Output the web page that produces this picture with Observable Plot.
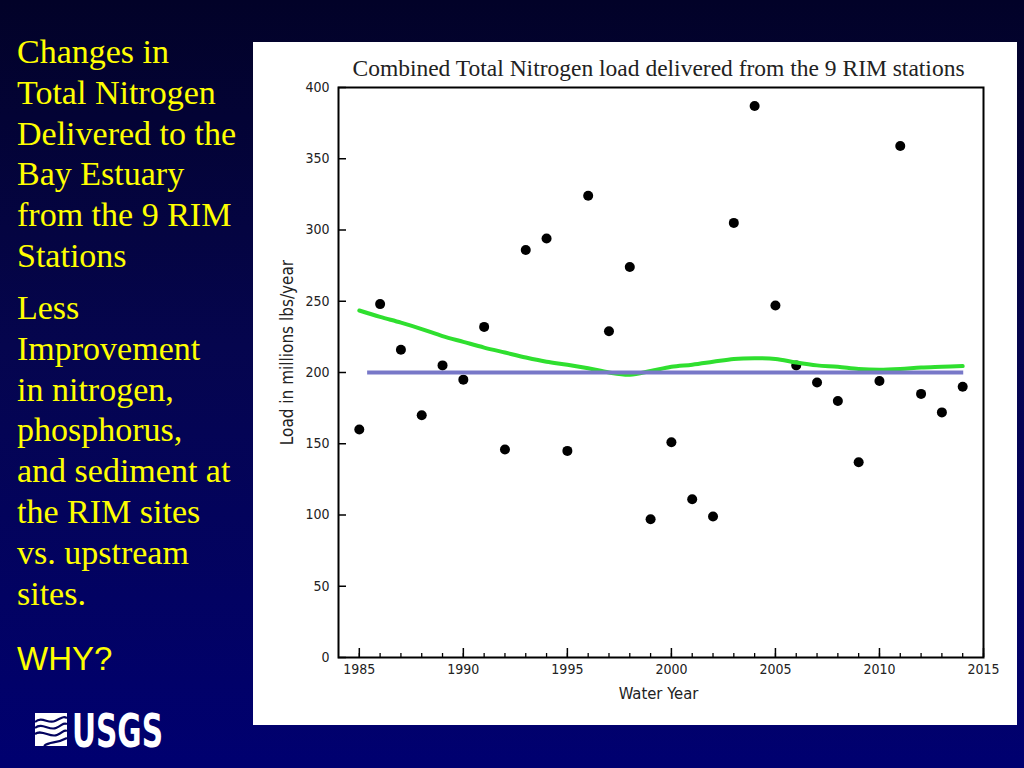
<!DOCTYPE html>
<html>
<head>
<meta charset="utf-8">
<script src="https://cdn.jsdelivr.net/npm/d3@7"></script>
<script src="https://cdn.jsdelivr.net/npm/@observablehq/plot@0.6"></script>
<style>
  html, body { margin: 0; padding: 0; }
  body {
    width: 1024px; height: 768px; overflow: hidden; position: relative;
    background: linear-gradient(to bottom, #020228 0%, #05054e 45%, #000070 100%);
  }
  #slide { position: absolute; left: 0; top: 0; }
  #chart { position: absolute; left: 253px; top: 42px; width: 764px; height: 683px; }
  #chart svg { display: block; }
</style>
</head>
<body>
<svg id="slide" width="1024" height="768"></svg>
<div id="chart"></div>
<script>
// ---------- data ----------
const years = [1985,1986,1987,1988,1989,1990,1991,1992,1993,1994,1995,1996,1997,1998,1999,
               2000,2001,2002,2003,2004,2005,2006,2007,2008,2009,2010,2011,2012,2013,2014];
const loads = [160,248,216,170,205,195,232,146,286,294,145,324,229,274,97,
               151,111,99,305,387,247,205,193,180,137,194,359,185,172,190];
const trendValues = [243.5,239,235,230.5,225.5,221.5,217.5,214,210.5,207.5,205.5,203,200,198.5,201,
                     204,205.5,207.5,209.5,210,209.5,207,205,204,202.5,202,202.5,203.5,204,204.5];
const meanLoad = 200;
const meanStart = 1985.4;
const meanEnd = 2014.05;
const yTicks = [0,50,100,150,200,250,300,350,400];
const majorYears = [1985,1990,1995,2000,2005,2010,2015];
const minorYears = d3.range(1985, 2016);
const chartTitle = "Combined Total Nitrogen load delivered from the 9 RIM stations";
const yLabel = "Load in millions lbs/year";
const xLabel = "Water Year";
const headingLines = ["Changes in","Total Nitrogen","Delivered to the","Bay Estuary","from the 9 RIM","Stations"];
const bodyLines = ["Less","Improvement","in nitrogen,","phosphorus,","and sediment at","the RIM sites","vs. upstream","sites."];
const question = "WHY?";
const logoText = "USGS";

const points = years.map((year, i) => ({year, load: loads[i]}));
const trend = years.map((year, i) => ({year, load: trendValues[i]}));

// ---------- slide decoration ----------
const slide = d3.select("#slide");
const yellow = "#ffff00";
headingLines.forEach((t, i) => {
  slide.append("text").attr("x", 17).attr("y", 63 + i * 40.8)
    .attr("fill", yellow).attr("font-family", "'Liberation Serif','Times New Roman',serif")
    .attr("font-size", 34).text(t);
});
bodyLines.forEach((t, i) => {
  slide.append("text").attr("x", 17).attr("y", 319 + i * 40.8)
    .attr("fill", yellow).attr("font-family", "'Liberation Serif','Times New Roman',serif")
    .attr("font-size", 34).text(t);
});
slide.append("text").attr("x", 17).attr("y", 670)
  .attr("fill", yellow).attr("font-family", "'Liberation Sans',Arial,sans-serif")
  .attr("font-size", 33).text(question);

// USGS logo
const logo = slide.append("g");
logo.append("rect").attr("x", 35).attr("y", 713).attr("width", 32).attr("height", 33).attr("fill", "white");
["M35,722 C42,716 48,724 55,721 S63,716 67,718",
 "M35,728 C42,722 49,731 56,728 S63,722 67,724",
 "M35,734 C42,729 50,738 57,735 S64,729 67,731",
 "M44,746 C50,741 56,744 67,738"].forEach(d => {
  logo.append("path").attr("d", d).attr("fill", "none").attr("stroke", "#03035e").attr("stroke-width", 2.2);
});
logo.append("text").attr("x", 72).attr("y", 747)
  .attr("fill", "white").attr("font-family", "'Liberation Sans Narrow','DejaVu Sans Condensed','Liberation Sans',Arial,sans-serif")
  .attr("font-weight", "bold").attr("font-size", 46)
  .attr("textLength", 91).attr("lengthAdjust", "spacingAndGlyphs").text(logoText);

// ---------- chart ----------
const sansNarrow = "'Liberation Sans Narrow','DejaVu Sans Condensed','Arial Narrow',sans-serif";
const frameW = 764 - 85 - 34;
const frameH = 683 - 45 - 68;

const chart = Plot.plot({
  width: 764,
  height: 683,
  marginLeft: 85,
  marginRight: 34,
  marginTop: 45,
  marginBottom: 68,
  x: {domain: [1984, 2015], axis: null, label: null},
  y: {domain: [0, 400], axis: null, label: null},
  style: {background: "white", fontFamily: sansNarrow, fontSize: "14px", color: "#222", overflow: "visible"},
  marks: [
    Plot.dot(points, {x: "year", y: "load", r: 5, fill: "black"}),
    Plot.line(trend, {x: "year", y: "load", stroke: "#2fdf2f", strokeWidth: 4, curve: "catmull-rom"}),
    Plot.ruleY([meanLoad], {x1: meanStart, x2: meanEnd, stroke: "#7878c8", strokeWidth: 4}),
    Plot.frame({stroke: "black", strokeWidth: 2}),
    Plot.tickY(yTicks, {y: d => d, insetRight: frameW - 8, stroke: "black", strokeWidth: 1.5}),
    Plot.tickX(minorYears, {x: d => d, insetTop: frameH - 4, stroke: "black", strokeWidth: 1.3}),
    Plot.tickX(majorYears, {x: d => d, insetTop: frameH - 9, stroke: "black", strokeWidth: 1.5}),
    Plot.axisY({ticks: yTicks, tickSize: 0, tickPadding: 9, tickFormat: "d", fill: "#222", label: null}),
    Plot.axisX({ticks: majorYears, tickSize: 0, tickPadding: 7, tickFormat: "d", fill: "#222", label: null}),
    Plot.text([chartTitle], {text: d => d, frameAnchor: "top", dx: -2.5, dy: -12, lineAnchor: "bottom",
      fontFamily: "'Liberation Serif','Times New Roman',serif", fontSize: 23.5, fill: "#222"}),
    Plot.text([xLabel], {text: d => d, frameAnchor: "bottom", dx: -2.5, dy: 36, lineAnchor: "middle",
      fontSize: 16.5, fill: "#222"}),
    Plot.text([yLabel], {text: d => d, frameAnchor: "left", rotate: -90, dx: -51, dy: -20,
      textAnchor: "middle", lineAnchor: "middle", fontSize: 17, fill: "#222"})
  ]
});
document.getElementById("chart").appendChild(chart);
</script>
</body>
</html>
